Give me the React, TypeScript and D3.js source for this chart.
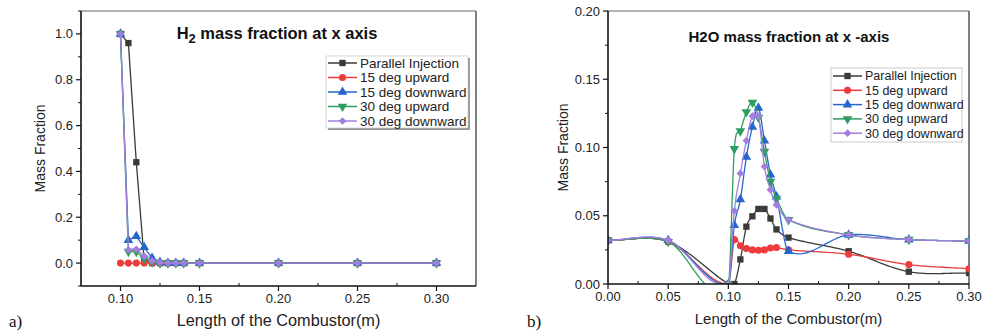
import React from "react";
import * as d3 from "d3";

// ---------- DATA ----------
const seriesNames = ["Parallel Injection", "15 deg upward", "15 deg downward", "30 deg upward", "30 deg downward"];
const seriesColors = ["#3a3a3a", "#ee3b3b", "#2566cc", "#2e9e5e", "#a57de0"];
const seriesMarkers = ["square", "circle", "triangleUp", "triangleDown", "diamond"];

// Panel a) H2 mass fraction
const h2X = [0.10, 0.105, 0.11, 0.115, 0.12, 0.125, 0.13, 0.135, 0.14, 0.15, 0.20, 0.25, 0.30];
const h2Parallel = [1.0, 0.96, 0.44, 0.012, 0.0, 0.0, 0.0, 0.0, 0.0, 0.0, 0.0, 0.0, 0.0];
const h2Up15 = [0.0, 0.0, 0.0, 0.0, 0.0, 0.0, 0.0, 0.0, 0.0, 0.0, 0.0, 0.0, 0.0];
const h2Down15 = [1.0, 0.10, 0.117, 0.069, 0.022, 0.005, 0.0, 0.0, 0.0, 0.0, 0.0, 0.0, 0.0];
const h2Up30 = [1.0, 0.05, 0.05, 0.02, 0.005, 0.0, 0.0, 0.0, 0.0, 0.0, 0.0, 0.0, 0.0];
const h2Down30 = [1.0, 0.058, 0.06, 0.03, 0.01, 0.003, 0.0, 0.0, 0.0, 0.0, 0.0, 0.0, 0.0];
const h2XTicks = [0.10, 0.15, 0.20, 0.25, 0.30];
const h2YTicks = [0.0, 0.2, 0.4, 0.6, 0.8, 1.0];

// Panel b) H2O mass fraction
const h2oX = [0.0, 0.05, 0.10, 0.105, 0.11, 0.115, 0.12, 0.125, 0.13, 0.135, 0.14, 0.15, 0.20, 0.25, 0.30];
const h2oParallel = [0.032, 0.031, 0.0, 0.0, 0.018, 0.042, 0.0496, 0.055, 0.055, 0.048, 0.040, 0.034, 0.024, 0.009, 0.008];
const h2oUp15 = [0.032, 0.031, 0.0, 0.0325, 0.028, 0.026, 0.025, 0.0247, 0.025, 0.0264, 0.0267, 0.025, 0.0218, 0.0142, 0.0112];
const h2oDown15 = [0.032, 0.032, 0.0, 0.043, 0.062, 0.093, 0.115, 0.129, 0.105, 0.080, 0.064, 0.024, 0.036, 0.0325, 0.0315];
const h2oUp30 = [0.032, 0.031, 0.0, 0.099, 0.112, 0.126, 0.133, 0.122, 0.097, 0.075, 0.0626, 0.047, 0.036, 0.0325, 0.0315];
const h2oDown30 = [0.032, 0.032, 0.0, 0.0535, 0.081, 0.105, 0.123, 0.123, 0.086, 0.069, 0.058, 0.047, 0.036, 0.0325, 0.0315];
const h2oXTicks = [0.0, 0.05, 0.10, 0.15, 0.20, 0.25, 0.30];
const h2oYTicks = [0.0, 0.05, 0.10, 0.15, 0.20];

const FONT = "'Liberation Sans', Arial, sans-serif";

// cubic Hermite spline in x with finite-difference (Catmull-Rom style) tangents
function splinePoints(xs: number[], ys: number[], samplesPerSeg = 30): [number, number][] {
  const n = xs.length;
  const m: number[] = xs.map((_, i) => {
    if (i === 0) return (ys[1] - ys[0]) / (xs[1] - xs[0]);
    if (i === n - 1) return (ys[n - 1] - ys[n - 2]) / (xs[n - 1] - xs[n - 2]);
    return (ys[i + 1] - ys[i - 1]) / (xs[i + 1] - xs[i - 1]);
  });
  const pts: [number, number][] = [];
  for (let i = 0; i < n - 1; i++) {
    const h = xs[i + 1] - xs[i];
    for (let k = 0; k < samplesPerSeg; k++) {
      const t = k / samplesPerSeg;
      const t2 = t * t, t3 = t2 * t;
      const h00 = 2 * t3 - 3 * t2 + 1, h10 = t3 - 2 * t2 + t, h01 = -2 * t3 + 3 * t2, h11 = t3 - t2;
      pts.push([xs[i] + t * h, h00 * ys[i] + h10 * h * m[i] + h01 * ys[i + 1] + h11 * h * m[i + 1]]);
    }
  }
  pts.push([xs[n - 1], ys[n - 1]]);
  return pts;
}

function Marker({ kind, x, y, color, size }: any) {
  let path: string;
  let rotation = 0;
  if (kind === "square") path = d3.symbol(d3.symbolSquare, size)() as string;
  else if (kind === "circle") path = d3.symbol(d3.symbolCircle, size)() as string;
  else if (kind === "triangleUp") path = d3.symbol(d3.symbolTriangle, size)() as string;
  else if (kind === "triangleDown") { path = d3.symbol(d3.symbolTriangle, size)() as string; rotation = 180; }
  else { path = d3.symbol(d3.symbolSquare, size * 0.75)() as string; rotation = 45; }
  return <path d={path} transform={`translate(${x},${y}) rotate(${rotation})`} fill={color} />;
}

type PanelProps = {
  id: string;
  left: number; right: number; top: number; bottom: number;
  xDomain: [number, number]; yDomain: [number, number];
  xTicks: number[]; yTicks: number[];
  xFmt: (v: number) => string; yFmt: (v: number) => string;
  xMinor: number[]; yMinor: number[];
  xs: number[]; series: number[][];
  smooth: boolean;
  title: React.ReactNode; titleX: number; titleY: number; titleSize: number;
  legend: { x: number; y: number; w: number; h: number; rowY0: number; rowStep: number; shadow: boolean; font: number };
  yLabelX: number;
  xLabelY: number; xLabelSize: number;
  panelLabel: string; panelLabelX: number;
};

function Panel(p: PanelProps) {
  const x = d3.scaleLinear().domain(p.xDomain).range([p.left, p.right]);
  const y = d3.scaleLinear().domain(p.yDomain).range([p.bottom, p.top]);
  const line = d3.line<[number, number]>().x((d) => x(d[0])).y((d) => y(d[1]));
  const clipId = `clip-${p.id}`;
  return (
    <g>
      <defs>
        <clipPath id={clipId}>
          <rect x={p.left} y={p.top} width={p.right - p.left} height={p.bottom - p.top} />
        </clipPath>
      </defs>
      <line x1={p.left} x2={p.right} y1={p.top} y2={p.top} stroke="#666" strokeWidth={1.2} />
      <line x1={p.right} x2={p.right} y1={p.top} y2={p.bottom} stroke="#555" strokeWidth={1.5} />
      <g clipPath={`url(#${clipId})`}>
        {p.series.map((s, si) => {
          const pts: [number, number][] = p.smooth ? splinePoints(p.xs, s) : p.xs.map((xv, i) => [xv, s[i]] as [number, number]);
          return (
            <g key={si}>
              <path d={line(pts) as string} fill="none" stroke={seriesColors[si]} strokeWidth={1.3} />
              {s.map((v, i) => (
                <Marker key={i} kind={seriesMarkers[si]} x={x(p.xs[i])} y={y(v)} color={seriesColors[si]} size={40} />
              ))}
            </g>
          );
        })}
      </g>
      <line x1={p.left} x2={p.left} y1={p.top} y2={p.bottom} stroke="#111" strokeWidth={1.6} />
      <line x1={p.left} x2={p.right} y1={p.bottom} y2={p.bottom} stroke="#111" strokeWidth={1.6} />
      {p.yTicks.map((t) => (
        <g key={`yt${t}`}>
          <line x1={p.left - 5} x2={p.left} y1={y(t)} y2={y(t)} stroke="#111" strokeWidth={1.2} />
          <text x={p.left - 8} y={y(t)} dy="0.35em" textAnchor="end" fontSize={13} fontFamily={FONT} fill="#222">{p.yFmt(t)}</text>
        </g>
      ))}
      {p.yMinor.map((t) => (
        <line key={`ym${t}`} x1={p.left - 3} x2={p.left} y1={y(t)} y2={y(t)} stroke="#111" strokeWidth={1} />
      ))}
      {p.xTicks.map((t) => (
        <g key={`xt${t}`}>
          <line x1={x(t)} x2={x(t)} y1={p.bottom} y2={p.bottom + 5} stroke="#111" strokeWidth={1.2} />
          <text x={x(t)} y={p.bottom + 17} textAnchor="middle" fontSize={13} fontFamily={FONT} fill="#222">{p.xFmt(t)}</text>
        </g>
      ))}
      {p.xMinor.map((t) => (
        <line key={`xm${t}`} x1={x(t)} x2={x(t)} y1={p.bottom - 3} y2={p.bottom} stroke="#111" strokeWidth={1} />
      ))}
      <text x={(p.left + p.right) / 2} y={p.xLabelY} textAnchor="middle" fontSize={p.xLabelSize} fontFamily={FONT} fill="#222">Length of the Combustor(m)</text>
      <text transform={`translate(${p.yLabelX},${(p.top + p.bottom) / 2}) rotate(-90)`} textAnchor="middle" fontSize={14} fontFamily={FONT} fill="#222">Mass Fraction</text>
      <text x={p.titleX} y={p.titleY} textAnchor="middle" fontSize={p.titleSize} fontWeight="bold" fontFamily={FONT} fill="#111">{p.title}</text>
      <text x={p.panelLabelX} y={327} fontSize={17} fontFamily="'Liberation Serif', 'Times New Roman', serif" fill="#111">{p.panelLabel}</text>
      <g>
        {p.legend.shadow ? (
          <>
            <rect x={p.legend.x + 2} y={p.legend.y + 2} width={p.legend.w} height={p.legend.h} fill="#999" />
            <rect x={p.legend.x} y={p.legend.y} width={p.legend.w} height={p.legend.h} fill="#fff" stroke="#bbb" strokeWidth={0.6} />
          </>
        ) : (
          <rect x={p.legend.x} y={p.legend.y} width={p.legend.w} height={p.legend.h} fill="#fff" stroke="#ccc" strokeWidth={1} />
        )}
        {seriesNames.map((n, i) => {
          const ry = p.legend.rowY0 + i * p.legend.rowStep;
          const lx = p.legend.x + 2;
          return (
            <g key={n}>
              <line x1={lx} x2={lx + 29} y1={ry} y2={ry} stroke={seriesColors[i]} strokeWidth={1.5} />
              <Marker kind={seriesMarkers[i]} x={lx + 14.5} y={ry} color={seriesColors[i]} size={40} />
              <text x={lx + 32} y={ry} dy="0.35em" fontSize={p.legend.font} fontFamily={FONT} fill="#222">{n}</text>
            </g>
          );
        })}
      </g>
    </g>
  );
}

export default function App() {
  const h2Series = [h2Parallel, h2Up15, h2Down15, h2Up30, h2Down30];
  const h2oSeries = [h2oParallel, h2oUp15, h2oDown15, h2oUp30, h2oDown30];
  const minorRange = (a: number, b: number, step: number) => {
    const out: number[] = [];
    for (let v = a; v <= b + 1e-9; v += step) out.push(+v.toFixed(4));
    return out;
  };
  return (
    <svg width={982} height={335} style={{ position: "absolute", left: 0, top: 0, background: "#fff" }}>
      <rect width={982} height={335} fill="#fff" />
      <Panel
        id="a"
        left={81} right={476} top={11} bottom={286}
        xDomain={[0.075, 0.325]} yDomain={[-0.1, 1.1]}
        xTicks={h2XTicks} yTicks={h2YTicks}
        xFmt={(v) => v.toFixed(2)} yFmt={(v) => v.toFixed(1)}
        xMinor={minorRange(0.125, 0.275, 0.05)}
        yMinor={minorRange(-0.1, 1.1, 0.2)}
        xs={h2X} series={h2Series}
        smooth={false}
        title={<><tspan>H</tspan><tspan dy={4} fontSize={13}>2</tspan><tspan dy={-4}> mass fraction at x axis</tspan></>}
        titleX={277} titleY={39} titleSize={16.5}
        legend={{ x: 326, y: 56, w: 142, h: 72, rowY0: 63, rowStep: 14.5, shadow: true, font: 13.5 }}
        yLabelX={45}
        xLabelY={326} xLabelSize={16.3}
        panelLabel="a)" panelLabelX={9}
      />
      <Panel
        id="b"
        left={608} right={969} top={11} bottom={284}
        xDomain={[0, 0.3]} yDomain={[0, 0.2]}
        xTicks={h2oXTicks} yTicks={h2oYTicks}
        xFmt={(v) => v.toFixed(2)} yFmt={(v) => v.toFixed(2)}
        xMinor={minorRange(0.025, 0.275, 0.05)}
        yMinor={minorRange(0.025, 0.175, 0.05)}
        xs={h2oX} series={h2oSeries}
        smooth={true}
        title="H2O mass fraction at x -axis"
        titleX={789} titleY={42} titleSize={15}
        legend={{ x: 831, y: 68, w: 131, h: 74, rowY0: 76, rowStep: 14.3, shadow: false, font: 12.5 }}
        yLabelX={568}
        xLabelY={324} xLabelSize={15}
        panelLabel="b)" panelLabelX={527}
      />
    </svg>
  );
}
